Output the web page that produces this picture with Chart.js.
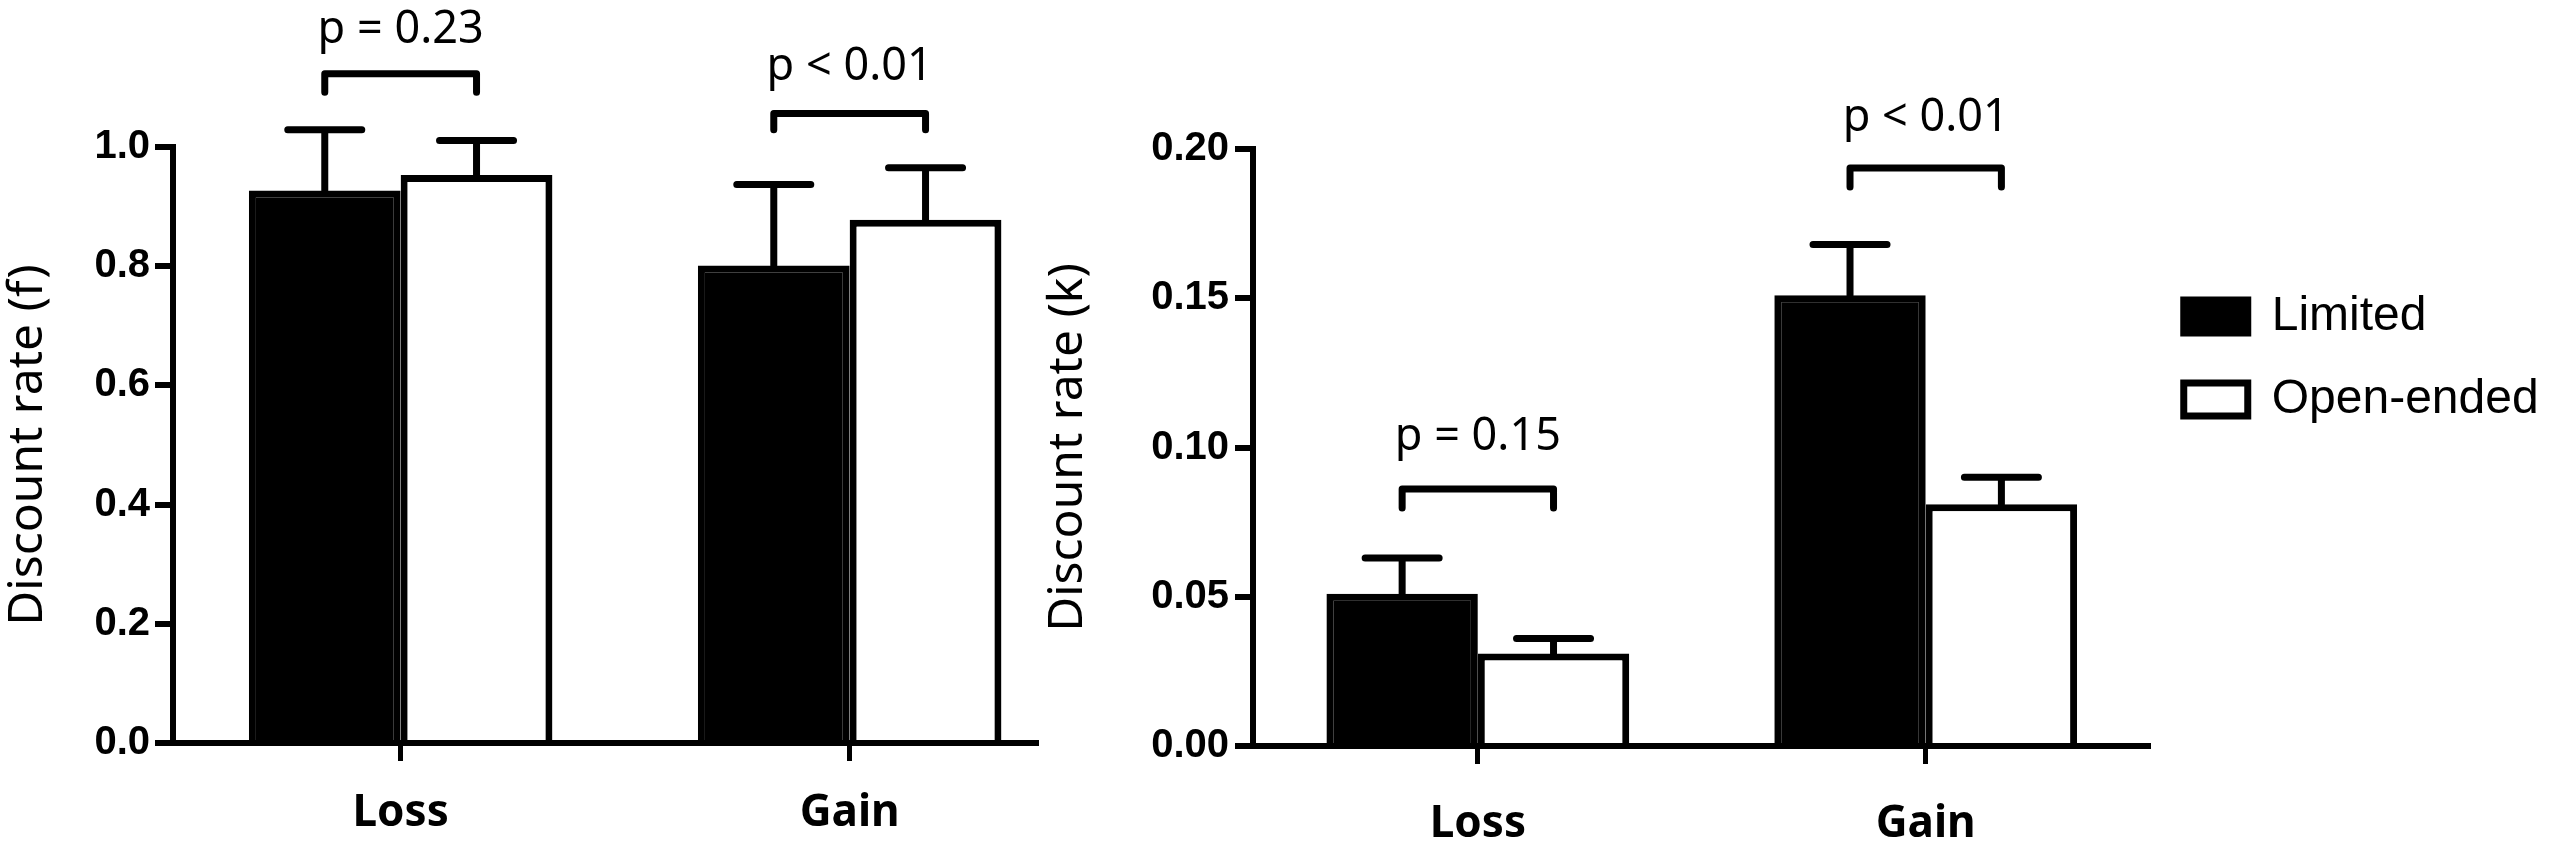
<!DOCTYPE html>
<html>
<head>
<meta charset="utf-8">
<script src="https://cdn.jsdelivr.net/npm/chart.js@4.4.1/dist/chart.umd.min.js"></script>
<style>
  html, body { margin: 0; padding: 0; background: #fff; }
  #wrap { position: relative; width: 2565px; height: 853px; overflow: hidden; }
  canvas { position: absolute; top: 0; }
</style>
</head>
<body>
<div id="wrap">
  <canvas id="leftChart" width="1040" height="853" style="left:0;width:1040px;height:853px"></canvas>
  <canvas id="rightChart" width="1665" height="853" style="left:900px;width:1665px;height:853px"></canvas>
</div>
<script>
// categories and groups
const categories = ['Loss', 'Gain'];
const groups = ['Limited', 'Open-ended'];

// left panel: discount rate (f)
const fLimited = [0.927, 0.801];
const fLimitedErr = [0.102, 0.136];
const fOpen = [0.953, 0.878];
const fOpenErr = [0.058, 0.087];
const fTicks = [0, 0.2, 0.4, 0.6, 0.8, 1.0];
const fPText = ['p = 0.23', 'p < 0.01'];
const fPTextAt = [1.174, 1.112];
const fBracketTop = [1.123, 1.056];
const fBracketLeg = [1.092, 1.029];

// right panel: discount rate (k)
const kLimited = [0.051, 0.151];
const kLimitedErr = [0.012, 0.017];
const kOpen = [0.031, 0.081];
const kOpenErr = [0.005, 0.009];
const kTicks = [0, 0.05, 0.10, 0.15, 0.20];
const kPText = ['p = 0.15', 'p < 0.01'];
const kPTextAt = [0.0992, 0.2059];
const kBracketTop = [0.0861, 0.1936];
const kBracketLeg = [0.0797, 0.1873];

const INK = '#000';
const LW = 7;

function points(vals) {
    return vals.map((v, i) => ({ x: i, y: v }));
}

// error bars (upper only) + significance brackets
const annotate = {
    id: 'annotate',
    afterDatasetsDraw(chart, args, opts) {
        const ctx = chart.ctx;
        const y = chart.scales.y;
        const x = chart.scales.x;
        ctx.save();
        ctx.strokeStyle = INK;
        ctx.lineWidth = LW;
        ctx.lineCap = 'round';
        ctx.lineJoin = 'round';
        chart.data.datasets.forEach((ds, di) => {
            chart.getDatasetMeta(di).data.forEach((bar, i) => {
                const top = y.getPixelForValue(ds.data[i].y + ds.err[i]);
                ctx.beginPath();
                ctx.moveTo(bar.x, bar.y);
                ctx.lineTo(bar.x, top);
                ctx.moveTo(bar.x - 37, top);
                ctx.lineTo(bar.x + 37, top);
                ctx.stroke();
            });
        });
        const a = chart.getDatasetMeta(0).data;
        const b = chart.getDatasetMeta(1).data;
        ctx.fillStyle = INK;
        ctx.font = '45px "Noto Sans"';
        ctx.textAlign = 'center';
        ctx.textBaseline = 'alphabetic';
        opts.text.forEach((t, i) => {
            const yt = y.getPixelForValue(opts.top[i]);
            const yl = y.getPixelForValue(opts.leg[i]);
            ctx.beginPath();
            ctx.moveTo(a[i].x, yl);
            ctx.lineTo(a[i].x, yt);
            ctx.lineTo(b[i].x, yt);
            ctx.lineTo(b[i].x, yl);
            ctx.stroke();
            ctx.fillText(t, x.getPixelForValue(i), y.getPixelForValue(opts.textAt[i]));
        });
        ctx.restore();
    }
};

function makeChart(id, cfg) {
    return new Chart(document.getElementById(id), {
        type: 'bar',
        data: {
            datasets: [{
                label: groups[0],
                data: points(cfg.limited),
                err: cfg.limitedErr,
                backgroundColor: INK,
                borderColor: INK,
                borderWidth: LW
            }, {
                label: groups[1],
                data: points(cfg.open),
                err: cfg.openErr,
                backgroundColor: '#fff',
                borderColor: INK,
                borderWidth: LW
            }]
        },
        options: {
            responsive: false,
            animation: false,
            layout: { padding: cfg.padding },
            categoryPercentage: 0.676,
            barPercentage: 1,
            plugins: {
                legend: cfg.legend,
                tooltip: { enabled: false },
                annotate: {
                    text: cfg.pText,
                    textAt: cfg.pTextAt,
                    top: cfg.bracketTop,
                    leg: cfg.bracketLeg
                }
            },
            scales: {
                x: {
                    type: 'linear',
                    offset: false,
                    min: cfg.xMin,
                    max: cfg.xMax,
                    afterBuildTicks: s => { s.ticks = categories.map((c, i) => ({ value: i })); },
                    afterFit: s => { s.height = cfg.xHeight; },
                    border: { display: true, color: INK, width: 6 },
                    grid: { offset: false, drawOnChartArea: false, drawTicks: true, tickLength: 18, color: INK, lineWidth: 5 },
                    ticks: {
                        autoSkip: false,
                        maxRotation: 0,
                        padding: cfg.xPad,
                        color: INK,
                        font: { family: 'Noto Sans', size: 44, weight: 'bold' },
                        callback: v => categories[v]
                    }
                },
                y: {
                    min: 0,
                    max: cfg.ticks[cfg.ticks.length - 1],
                    afterBuildTicks: s => { s.ticks = cfg.ticks.map(v => ({ value: v })); },
                    afterFit: s => { s.width = cfg.yWidth; },
                    border: { display: true, color: INK, width: 6 },
                    grid: { drawOnChartArea: false, drawTicks: true, tickLength: 18, color: INK, lineWidth: 6 },
                    ticks: {
                        padding: cfg.yPad,
                        color: INK,
                        font: { family: 'Liberation Sans', size: 40, weight: 'bold' },
                        callback: v => v.toFixed(cfg.decimals)
                    },
                    title: {
                        display: true,
                        text: cfg.title,
                        color: INK,
                        padding: { top: cfg.titleGap, bottom: 0 },
                        font: { family: 'Noto Sans', size: 48, weight: 'normal', lineHeight: 1.2 }
                    }
                }
            }
        },
        plugins: [annotate]
    });
}

const leftChart = makeChart('leftChart', {
    limited: fLimited, limitedErr: fLimitedErr, open: fOpen, openErr: fOpenErr,
    ticks: fTicks, decimals: 1, title: 'Discount rate (f)', titleGap: 0,
    pText: fPText, pTextAt: fPTextAt, bracketTop: fBracketTop, bracketLeg: fBracketLeg,
    padding: { top: 147, right: 4, bottom: 0, left: 0 },
    xMin: -0.507, xMax: 1.415, xHeight: 110, xPad: 26, yWidth: 173, yPad: 5,
    legend: { display: false }
});

// right canvas starts 140px further left (transparent overlap) so the legend gets room
const rightChart = makeChart('rightChart', {
    limited: kLimited, limitedErr: kLimitedErr, open: kOpen, openErr: kOpenErr,
    ticks: kTicks, decimals: 2, title: 'Discount rate (k)', titleGap: 140,
    pText: kPText, pTextAt: kPTextAt, bracketTop: kBracketTop, bracketLeg: kBracketLeg,
    padding: { top: 149, right: 0, bottom: 0, left: 0 },
    xMin: -0.502, xMax: 1.498, xHeight: 107, xPad: 34, yWidth: 353, yPad: 6,
    legend: {
        display: true,
        position: 'right',
        align: 'start',
        title: { display: true, text: '', padding: { top: 96.5, bottom: 0 }, font: { size: 10 } },
        labels: {
            color: INK,
            boxWidth: 64,
            boxHeight: 33,
            padding: 35,
            font: { family: 'Liberation Sans', size: 48 },
            // trailing room so the clipped legend box holds the whole label
            generateLabels: chart => Chart.defaults.plugins.legend.labels.generateLabels(chart)
                .map(item => Object.assign(item, { text: item.text + '   ' }))
        }
    }
});
</script>
</body>
</html>
